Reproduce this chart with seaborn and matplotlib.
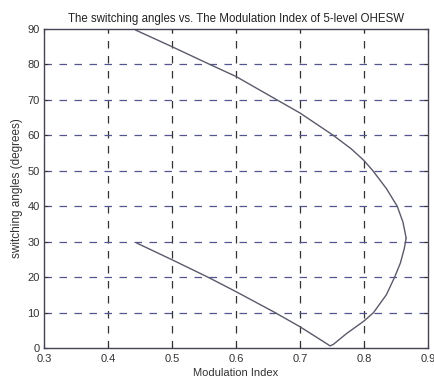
import matplotlib
matplotlib.use("Agg")
import matplotlib.pyplot as plt
import seaborn as sns
import pandas as pd

# Lower switching angle branch (goes down to the cusp, then up to the nose)
m_lower = [0.445, 0.5, 0.556, 0.6, 0.66, 0.7, 0.742, 0.747, 0.752, 0.773, 0.8, 0.815,
           0.835, 0.848, 0.857, 0.863, 0.866]
a_lower = [29.6, 24.9, 20.0, 15.9, 10.1, 6.0, 1.2, 0.6, 1.0, 4.1, 7.6, 10.0,
           15.0, 20.0, 24.0, 28.0, 31.0]

# Upper switching angle branch
m_upper = [0.443, 0.5, 0.559, 0.6, 0.664, 0.7, 0.752, 0.78, 0.8, 0.814, 0.835, 0.852,
           0.861, 0.866]
a_upper = [89.7, 85.0, 80.0, 76.6, 70.0, 66.3, 60.0, 56.2, 52.9, 50.0, 45.0, 40.0,
           35.5, 31.0]

x_ticks = [0.3, 0.4, 0.5, 0.6, 0.7, 0.8, 0.9]
y_ticks = [0, 10, 20, 30, 40, 50, 60, 70, 80, 90]

title = "The switching angles vs. The Modulation Index of 5-level OHESW"
xlabel = "Modulation Index"
ylabel = "switching angles (degrees)"

sns.set_style("white")
plt.rcParams['font.family'] = ['Liberation Sans', 'DejaVu Sans']

df = pd.concat([
    pd.DataFrame({"m": m_lower, "a": a_lower, "branch": "lower"}),
    pd.DataFrame({"m": m_upper, "a": a_upper, "branch": "upper"}),
])

fig = plt.figure(figsize=(4.34, 3.81), dpi=100)
ax = fig.add_axes([0.1014, 0.0866, 0.8846, 0.8374])

sns.lineplot(data=df, x="m", y="a", units="branch", estimator=None, sort=False,
             color="#5a5a6a", linewidth=1.0, ax=ax, legend=False)

ax.set_xlim(0.3, 0.9)
ax.set_ylim(0, 90)
ax.set_xticks(x_ticks)
ax.set_yticks(y_ticks)
ax.set_xticklabels([f"{v:g}" for v in x_ticks])
ax.set_yticklabels([f"{v:g}" for v in y_ticks])

for v in x_ticks[1:-1]:
    ax.axvline(v, color="#333333", linestyle=(0, (6, 6)), linewidth=0.9, zorder=0)
for v in y_ticks[1:-1]:
    ax.axhline(v, color="#55558f", linestyle=(0, (6, 6)), linewidth=0.9, zorder=0)

ax.tick_params(direction="in", length=3, width=0.8, labelsize=8, colors="#333333",
               top=True, right=True, bottom=True, left=True)
ax.tick_params(axis="x", pad=4)
ax.tick_params(axis="y", pad=3)
for s in ax.spines.values():
    s.set_color("#444455")
    s.set_linewidth(1.0)

ax.set_title(title, fontsize=8.3, color="#222222", pad=5)
ax.set_xlabel(xlabel, fontsize=8, color="#333333", labelpad=3)
ax.set_ylabel(ylabel, fontsize=8.5, color="#333333", labelpad=3)

fig.savefig("out.png", dpi=100)
